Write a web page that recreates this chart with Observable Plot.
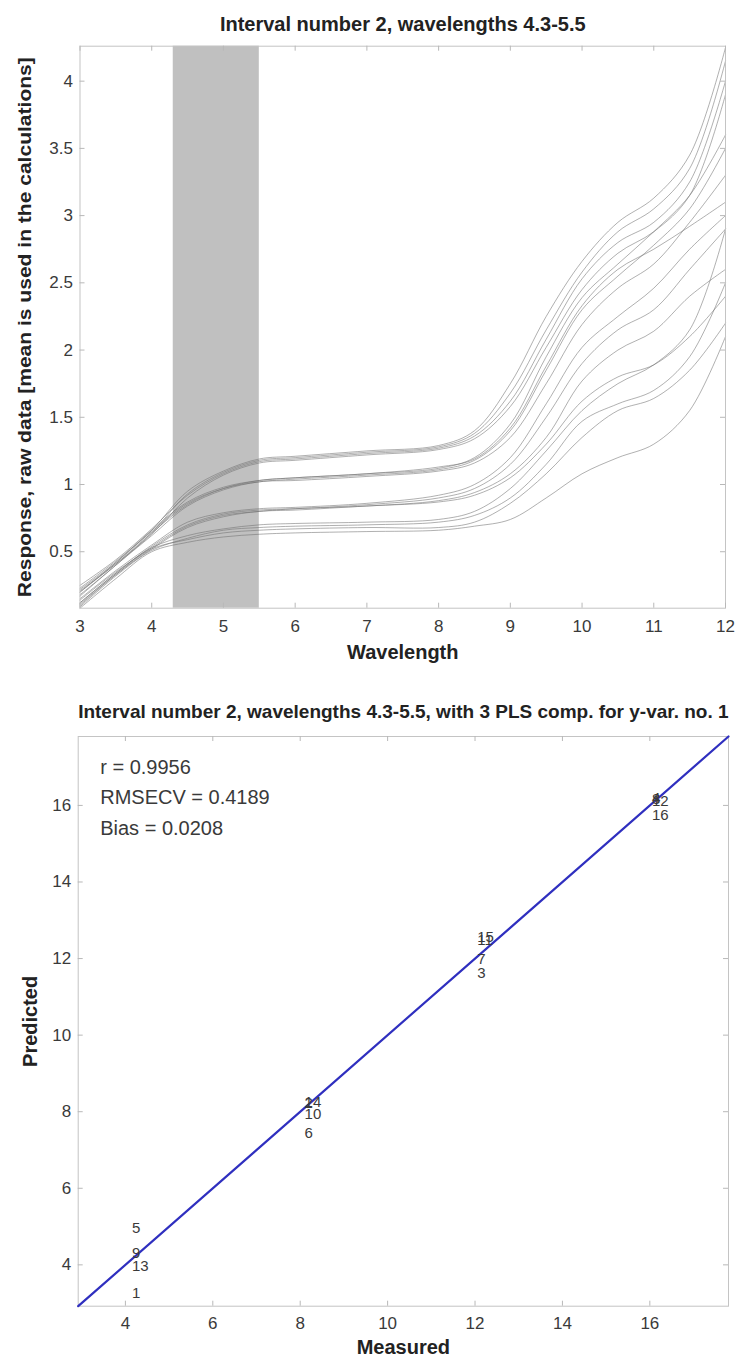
<!DOCTYPE html>
<html><head><meta charset="utf-8">
<script src="https://cdn.jsdelivr.net/npm/d3@7"></script>
<script src="https://cdn.jsdelivr.net/npm/@observablehq/plot@0.6"></script>
<style>
body{margin:0;background:#fff;}
svg{display:block;}
</style></head><body>
<div id="chart"></div>
<script>
// ---------- top chart data ----------
const topTitle = "Interval number 2, wavelengths 4.3-5.5";
const topXLabel = "Wavelength";
const topYLabel = "Response, raw data [mean is used in the calculations]";
const wavelengths = [3,3.5,4,4.5,5,5.5,6,7,8,8.5,9,9.5,10,10.5,11,11.5,12];
const spectrumA1 = [0.22,0.42,0.66,0.95,1.10,1.19,1.21,1.25,1.29,1.40,1.75,2.25,2.66,2.95,3.13,3.45,4.25];
const spectrumA2 = [0.18,0.40,0.64,0.93,1.09,1.18,1.20,1.24,1.28,1.38,1.68,2.15,2.58,2.88,3.05,3.35,4.15];
const spectrumA3 = [0.25,0.44,0.67,0.92,1.08,1.17,1.19,1.23,1.27,1.36,1.62,2.08,2.53,2.80,2.95,3.25,4.00];
const spectrumA4 = [0.20,0.41,0.63,0.90,1.07,1.16,1.18,1.22,1.26,1.34,1.58,2.02,2.45,2.72,2.88,3.15,3.90];
const spectrumB1 = [0.20,0.42,0.66,0.87,0.98,1.03,1.05,1.08,1.12,1.20,1.45,1.95,2.39,2.64,2.88,3.15,3.60];
const spectrumB2 = [0.23,0.43,0.65,0.86,0.97,1.02,1.04,1.07,1.11,1.18,1.40,1.85,2.30,2.55,2.78,3.05,3.50];
const spectrumB3 = [0.17,0.40,0.62,0.84,0.96,1.02,1.03,1.06,1.10,1.16,1.35,1.75,2.19,2.46,2.64,2.95,3.30];
const spectrumB4 = [0.21,0.41,0.64,0.85,0.97,1.03,1.05,1.08,1.13,1.19,1.42,1.88,2.33,2.60,2.75,2.92,3.10];
const spectrumC1 = [0.15,0.36,0.55,0.72,0.79,0.82,0.83,0.86,0.92,1.00,1.20,1.60,2.02,2.25,2.46,2.75,3.00];
const spectrumC2 = [0.12,0.34,0.54,0.70,0.78,0.81,0.82,0.85,0.90,0.97,1.15,1.50,1.90,2.15,2.30,2.60,2.90];
const spectrumC3 = [0.14,0.35,0.53,0.69,0.77,0.80,0.82,0.84,0.88,0.94,1.08,1.35,1.77,2.00,2.14,2.40,2.60];
const spectrumC4 = [0.10,0.33,0.52,0.68,0.76,0.80,0.81,0.84,0.87,0.92,1.05,1.30,1.62,1.80,1.89,2.10,2.40];
const spectrumD1 = [0.12,0.34,0.53,0.62,0.67,0.70,0.71,0.72,0.74,0.80,0.97,1.25,1.55,1.75,1.89,2.15,2.90];
const spectrumD2 = [0.09,0.32,0.51,0.60,0.66,0.68,0.69,0.70,0.72,0.77,0.90,1.15,1.47,1.60,1.70,1.95,2.50];
const spectrumD3 = [0.11,0.33,0.52,0.59,0.64,0.66,0.67,0.68,0.68,0.72,0.86,1.08,1.35,1.55,1.64,1.85,2.20];
const spectrumD4 = [0.08,0.30,0.50,0.57,0.61,0.63,0.64,0.65,0.66,0.69,0.74,0.90,1.08,1.20,1.30,1.55,2.10];
const intervalStart = [4.3];
const intervalEnd = [5.5];
const topXTicks = [3,4,5,6,7,8,9,10,11,12];
const topYTicks = [0.5,1,1.5,2,2.5,3,3.5,4];
const topXDomain = [3, 12];
const topYDomain = [0.08, 4.26];

// ---------- bottom chart data ----------
const bottomTitle = "Interval number 2, wavelengths 4.3-5.5, with 3 PLS comp. for y-var. no. 1";
const bottomXLabel = "Measured";
const bottomYLabel = "Predicted";
const sampleLabels = ["1","5","9","13","2","14","10","6","3","7","11","15","4","8","12","16"];
const measured  = [4.15,4.15,4.15,4.15, 8.1,8.1,8.1,8.1, 12.05,12.05,12.05,12.05, 16.05,16.05,16.05,16.05];
const predicted = [3.26,4.96,4.30,3.96, 8.22,8.26,7.93,7.45, 11.63,11.98,12.48,12.55, 16.20,16.15,16.10,15.75];
const statLines = ["r = 0.9956","RMSECV = 0.4189","Bias = 0.0208"];
const bottomTicks = [4,6,8,10,12,14,16];
const bottomDomain = [2.92, 17.8];

// ---------- build ----------
const spectra = [spectrumA1,spectrumA2,spectrumA3,spectrumA4,spectrumB1,spectrumB2,spectrumB3,spectrumB4,
                 spectrumC1,spectrumC2,spectrumC3,spectrumC4,spectrumD1,spectrumD2,spectrumD3,spectrumD4];
const specRows = spectra.flatMap((s, i) => s.map((v, j) => ({id: i, w: wavelengths[j], v})));
const band = intervalStart.map((a, i) => ({x1: a, x2: intervalEnd[i]}));
const statRows = statLines.map((s, i) => ({s, i}));
const FONT = "'Liberation Sans', Arial, Helvetica, sans-serif";
const frameColor = "#c4c4c4";
const tickColor = "#b8b8b8";
const labelColor = "#3a3a3a";

function boxTicks(xt, yt, innerW, innerH) {
  const L = 5;
  return [
    Plot.tickX(xt, {x: d => d, insetTop: innerH - L, stroke: tickColor}),
    Plot.tickX(xt, {x: d => d, insetBottom: innerH - L, stroke: tickColor}),
    Plot.tickY(yt, {y: d => d, insetRight: innerW - L, stroke: tickColor}),
    Plot.tickY(yt, {y: d => d, insetLeft: innerW - L, stroke: tickColor})
  ];
}

// top chart
{
  const W = 740, H = 665, mt = 45.7, mb = 57.3, ml = 79.5, mr = 15;
  const iw = W - ml - mr, ih = H - mt - mb;
  const svg = Plot.plot({
    width: W, height: H, marginTop: mt, marginBottom: mb, marginLeft: ml, marginRight: mr,
    style: {fontFamily: FONT, background: "#fff"},
    x: {domain: topXDomain},
    y: {domain: topYDomain},
    marks: [
      Plot.rect(band, {x1: "x1", x2: "x2", fill: "#c0c0c0"}),
      Plot.line(specRows, {x: "w", y: "v", z: "id", stroke: "#707070", strokeOpacity: 0.55, strokeWidth: 1, curve: "catmull-rom"}),
      Plot.frame({stroke: frameColor}),
      ...boxTicks(topXTicks, topYTicks, iw, ih),
      Plot.axisX(topXTicks, {tickSize: 0, tickPadding: 12, fontSize: 17, fill: labelColor, label: null, tickFormat: d => String(d)}),
      Plot.axisY(topYTicks, {tickSize: 0, tickPadding: 7, fontSize: 17, fill: labelColor, label: null, tickFormat: d => String(d)}),
      Plot.text([topTitle], {frameAnchor: "top", dy: -22, fontSize: 20, fontWeight: "bold", fill: "#222", lineAnchor: "middle"}),
      Plot.text([topXLabel], {frameAnchor: "bottom", dy: 44, fontSize: 20, fontWeight: "bold", fill: "#222", lineAnchor: "middle"}),
      Plot.text([topYLabel], {frameAnchor: "left", dx: -54.5, rotate: -90, textAnchor: "middle", fontSize: 18, fontWeight: "bold", fill: "#222", lineAnchor: "middle"})
    ]
  });
  d3.select(svg).selectAll("text")
    .filter(function () { return this.textContent === topYLabel; })
    .attr("textLength", 540).attr("lengthAdjust", "spacingAndGlyphs");
  document.getElementById("chart").appendChild(svg);
}

// bottom chart
{
  const W = 740, H = 694, mt = 71, mb = 53.3, ml = 77.7, mr = 12;
  const iw = W - ml - mr, ih = H - mt - mb;
  const pts = sampleLabels.map((s, i) => ({label: s, x: measured[i], y: predicted[i]}));
  const diag = bottomDomain.map(v => ({x: v, y: v}));
  const svg = Plot.plot({
    width: W, height: H, marginTop: mt, marginBottom: mb, marginLeft: ml, marginRight: mr,
    style: {fontFamily: FONT, background: "#fff"},
    x: {domain: bottomDomain},
    y: {domain: bottomDomain},
    marks: [
      Plot.frame({stroke: frameColor}),
      ...boxTicks(bottomTicks, bottomTicks, iw, ih),
      Plot.line(diag, {x: "x", y: "y", stroke: "#2f2fbf", strokeWidth: 2.2}),
      Plot.text(pts, {x: "x", y: "y", text: "label", textAnchor: "start", fontSize: 15, fill: labelColor, lineAnchor: "middle"}),
      ...statRows.map(r => Plot.text([r.s], {frameAnchor: "top-left", dx: 22, dy: 30.7 + r.i * 30.8, fontSize: 20, fill: labelColor, textAnchor: "start", lineAnchor: "middle"})),
      Plot.axisX(bottomTicks, {tickSize: 0, tickPadding: 11, fontSize: 17, fill: labelColor, label: null, tickFormat: d => String(d)}),
      Plot.axisY(bottomTicks, {tickSize: 0, tickPadding: 7, fontSize: 17, fill: labelColor, label: null, tickFormat: d => String(d)}),
      Plot.text([bottomTitle], {frameAnchor: "top", dy: -24.3, fontSize: 19, fontWeight: "bold", fill: "#222", lineAnchor: "middle"}),
      Plot.text([bottomXLabel], {frameAnchor: "bottom", dy: 41, fontSize: 20, fontWeight: "bold", fill: "#222", lineAnchor: "middle"}),
      Plot.text([bottomYLabel], {frameAnchor: "left", dx: -48, rotate: -90, textAnchor: "middle", fontSize: 20, fontWeight: "bold", fill: "#222", lineAnchor: "middle"})
    ]
  });
  document.getElementById("chart").appendChild(svg);
}
</script>
</body></html>
